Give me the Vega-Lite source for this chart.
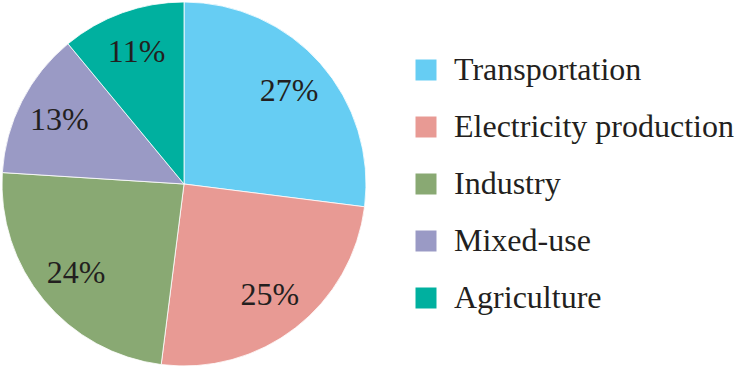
{
  "$schema": "https://vega.github.io/schema/vega-lite/v6.json",
  "width": 364,
  "height": 364,
  "padding": 0,
  "background": "#ffffff",
  "config": {"view": {"stroke": null}, "font": "'Liberation Serif', 'DejaVu Serif', serif"},
  "data": {
    "values": [
      {"sector": "Transportation", "share": 0.27, "idx": 1},
      {"sector": "Electricity production", "share": 0.25, "idx": 2},
      {"sector": "Industry", "share": 0.24, "idx": 3},
      {"sector": "Mixed-use", "share": 0.13, "idx": 4},
      {"sector": "Agriculture", "share": 0.11, "idx": 5}
    ]
  },
  "encoding": {
    "theta": {"field": "share", "type": "quantitative", "stack": true},
    "order": {"field": "idx", "type": "quantitative"}
  },
  "layer": [
    {
      "mark": {"type": "arc", "stroke": "#ffffff", "strokeWidth": 0.8},
      "encoding": {
        "color": {
          "field": "sector",
          "type": "nominal",
          "sort": ["Transportation", "Electricity production", "Industry", "Mixed-use", "Agriculture"],
          "scale": {
            "domain": ["Transportation", "Electricity production", "Industry", "Mixed-use", "Agriculture"],
            "range": ["#66CDF3", "#E89A94", "#89A973", "#9A9AC5", "#00B09F"]
          },
          "legend": {
            "title": null,
            "orient": "none",
            "legendX": 408,
            "legendY": 52,
            "symbolType": "square",
            "symbolSize": 441,
            "symbolStrokeWidth": 0,
            "labelFont": "'Liberation Serif', 'DejaVu Serif', serif",
            "labelFontSize": 32,
            "labelColor": "#231F20",
            "labelOffset": 12,
            "rowPadding": 25,
            "labelLimit": 400
          }
        }
      }
    },
    {
      "mark": {"type": "text", "radius": 140, "font": "'Liberation Serif', 'DejaVu Serif', serif", "fontSize": 32, "color": "#231F20", "baseline": "middle", "align": "center"},
      "encoding": {
        "text": {"field": "share", "type": "quantitative", "format": ".0%"},
        "detail": {"field": "sector", "type": "nominal"}
      }
    }
  ]
}
